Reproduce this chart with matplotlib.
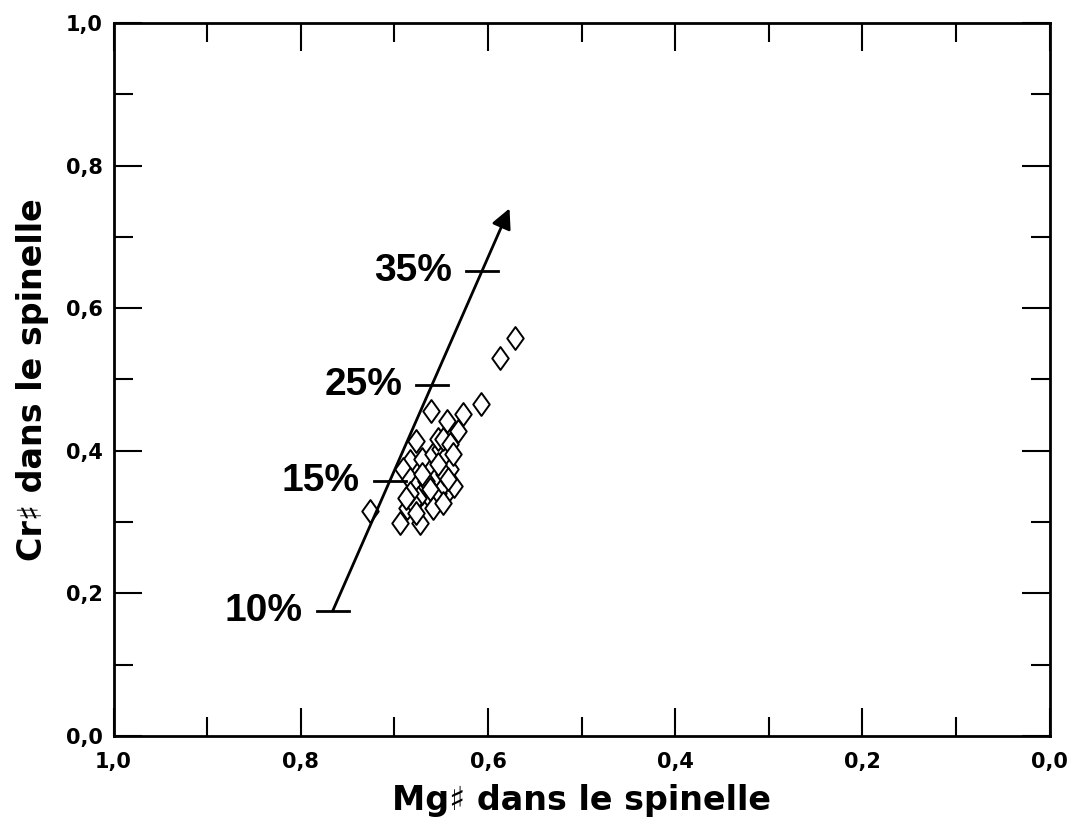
import numpy as np
import matplotlib
matplotlib.use("Agg")
import matplotlib.pyplot as plt
from matplotlib.path import Path

plt.rcParams['font.family'] = ['Liberation Sans', 'DejaVu Sans']
plt.rcParams['font.weight'] = 'bold'

# Spinel compositions (Mg#, Cr#)
mg_num = [0.571, 0.587, 0.607, 0.627, 0.644, 0.661, 0.632, 0.677, 0.726, 0.694,
          0.673, 0.686, 0.643, 0.636, 0.683, 0.691, 0.683, 0.677, 0.670, 0.662,
          0.653, 0.648, 0.656, 0.664, 0.670, 0.659, 0.651, 0.645, 0.641, 0.647,
          0.666, 0.675, 0.680, 0.659, 0.648, 0.683, 0.653, 0.648, 0.641, 0.637,
          0.662, 0.670, 0.653, 0.643, 0.688, 0.677]
cr_num = [0.558, 0.530, 0.466, 0.452, 0.442, 0.456, 0.427, 0.414, 0.316, 0.298,
          0.298, 0.319, 0.344, 0.350, 0.386, 0.375, 0.361, 0.350, 0.340, 0.333,
          0.340, 0.354, 0.368, 0.378, 0.389, 0.396, 0.403, 0.392, 0.375, 0.368,
          0.358, 0.333, 0.326, 0.319, 0.326, 0.340, 0.417, 0.417, 0.410, 0.396,
          0.347, 0.368, 0.382, 0.361, 0.333, 0.312]

# Melting trend (arrow) and degree-of-melting marks
trend_start = (0.766, 0.175)
trend_end = (0.577, 0.740)
melt_labels = ["10%", "15%", "25%", "35%"]
melt_cr = [0.175, 0.357, 0.492, 0.652]
tick_half = 0.017

ticks = [0.0, 0.2, 0.4, 0.6, 0.8, 1.0]
tick_labels = ["0,0", "0,2", "0,4", "0,6", "0,8", "1,0"]

wide_font = ['DejaVu Sans']

fig = plt.figure(figsize=(10.82, 8.24), dpi=100)
ax = fig.add_axes([0.105, 0.107, 0.865, 0.865])

# Tall open diamond marker
diamond = Path([(-0.72, 0), (0, 1), (0.72, 0), (0, -1), (-0.72, 0)],
               [Path.MOVETO, Path.LINETO, Path.LINETO, Path.LINETO, Path.CLOSEPOLY])
ax.plot(mg_num, cr_num, linestyle='none', marker=diamond, markersize=16.5,
        markerfacecolor='white', markeredgecolor='black', markeredgewidth=1.4,
        zorder=3)

ax.annotate("", xy=trend_end, xytext=trend_start,
            arrowprops=dict(arrowstyle='-|>', color='black', lw=2,
                            mutation_scale=30, shrinkA=0, shrinkB=0),
            zorder=4)

slope = (trend_end[0] - trend_start[0]) / (trend_end[1] - trend_start[1])
for lab, y in zip(melt_labels, melt_cr):
    x = trend_start[0] + (y - trend_start[1]) * slope
    ax.plot([x + tick_half, x - tick_half], [y, y], color='black', lw=2, zorder=4)
    ax.annotate(lab, xy=(x + tick_half, y), xytext=(-10, 0),
                textcoords='offset points', ha='right', va='center',
                fontsize=28, fontweight='bold')

ax.set_xlim(1.0, 0.0)
ax.set_ylim(0.0, 1.0)
ax.set_xticks(ticks)
ax.set_xticklabels(tick_labels, family=wide_font, fontweight='bold', fontsize=15)
ax.set_yticks(ticks)
ax.set_yticklabels(tick_labels, family=wide_font, fontweight='bold', fontsize=15)
ax.set_xticks(np.arange(0.1, 1.0, 0.2), minor=True)
ax.set_yticks(np.arange(0.1, 1.0, 0.2), minor=True)
ax.tick_params(which='both', direction='in', top=True, right=True, width=1.5)
ax.tick_params(which='major', length=20)
ax.tick_params(which='minor', length=14)
ax.tick_params(axis='x', pad=12)
ax.tick_params(axis='y', pad=8)
for s in ax.spines.values():
    s.set_linewidth(2)

ax.set_xlabel("Mg♯ dans le spinelle", family=wide_font, fontsize=24,
              fontweight='bold', labelpad=8)
ax.set_ylabel("Cr♯ dans le spinelle", family=wide_font, fontsize=24,
              fontweight='bold', labelpad=12)

fig.savefig("out.png", dpi=100)
